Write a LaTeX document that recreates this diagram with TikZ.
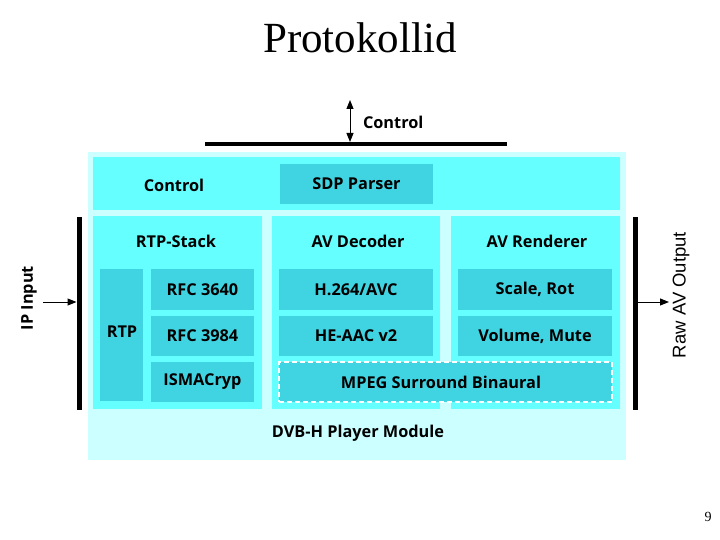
\documentclass[tikz,border=0pt]{standalone}
\usepackage{fontspec}
\setmainfont{Open Sans}
\newfontfamily\titlefont{Liberation Serif}
\newfontfamily\arialfont{Liberation Sans}
\usetikzlibrary{arrows.meta}
\definecolor{lightc}{RGB}{204,255,255}
\definecolor{midc}{RGB}{102,255,255}
\definecolor{darkc}{RGB}{64,212,226}
\tikzset{
  base/.style={inner sep=0pt, outer sep=0pt, font=\fontsize{16.3}{18}\selectfont\bfseries},
  outerbox/.style={base, fill=lightc, draw=none},
  midbox/.style={base, fill=midc, draw=none},
  darkbox/.style={base, fill=darkc, draw=none},
  dashbox/.style={base, fill=darkc, draw=white, dashed, line width=1.2pt, dash pattern=on 5pt off 3pt},
  txt/.style={base},
  bar/.style={fill=black, draw=none, inner sep=0pt, outer sep=0pt},
  arr/.style={line width=1pt, -{Triangle[length=9pt,width=7pt]}},
  darr/.style={line width=1pt, {Triangle[length=9pt,width=7pt]}-{Triangle[length=9pt,width=7pt]}},
}
\begin{document}
\begin{tikzpicture}[x=1pt,y=-1pt]
\useasboundingbox[fill=white] (0,0) rectangle (720,540);
% title and page number
\node[inner sep=0pt, font=\titlefont\fontsize{43}{48}\selectfont] (title) at (360,38) {Protokollid};
\node[inner sep=0pt, font=\titlefont\fontsize{14}{16}\selectfont] (pagenum) at (708,517) {9};
% outer module
\node[outerbox, minimum width=538pt, minimum height=308pt] (dvbh) at (357,306) {};
\node[txt] (dvbhlabel) at (358,433) {DVB-H Player Module};
% control row
\node[midbox, minimum width=527pt, minimum height=53pt] (ctrlrow) at (356.5,183.5) {};
\node[txt] (ctrllabel) at (174,185) {Control};
\node[darkbox, minimum width=153pt, minimum height=40pt] (sdp) at (356.5,184) {SDP Parser};
% columns
\node[midbox, minimum width=169pt, minimum height=193pt] (rtpstack) at (177.5,312.5) {};
\node[midbox, minimum width=168pt, minimum height=193pt] (avdec) at (356,312.5) {};
\node[midbox, minimum width=169pt, minimum height=193pt] (avren) at (535.5,312.5) {};
\node[txt] (rtpstacklabel) at (176,241) {RTP-Stack};
\node[txt] (avdeclabel) at (358,241) {AV Decoder};
\node[txt] (avrenlabel) at (537,241) {AV Renderer};
% inner boxes
\node[darkbox, minimum width=43pt, minimum height=132pt] (rtp) at (121.5,335) {};
\node[txt] (rtplabel) at (122,332) {RTP};
\node[darkbox, minimum width=103pt, minimum height=41pt] (rfca) at (202.5,289.5) {RFC 3640};
\node[darkbox, minimum width=103pt, minimum height=40pt] (rfcb) at (202.5,336) {RFC 3984};
\node[darkbox, minimum width=103pt, minimum height=40pt] (isma) at (202.5,382) {ISMACryp};
\node[darkbox, minimum width=154pt, minimum height=41pt] (h264) at (356,289.5) {H.264/AVC};
\node[darkbox, minimum width=154pt, minimum height=40pt] (heaac) at (356,336) {HE-AAC v2};
\node[darkbox, minimum width=154pt, minimum height=41pt] (scale) at (535,289.5) {Scale, Rot};
\node[darkbox, minimum width=154pt, minimum height=40pt] (volume) at (535,336) {Volume, Mute};
\node[dashbox, minimum width=333pt, minimum height=40pt] (mpeg) at (445.5,382) {};
\node[txt] (mpeglabel) at (441,382) {MPEG Surround Binaural};
% bars
\node[bar, minimum width=302pt, minimum height=4pt] (ctrlbar) at (356,144) {};
\node[bar, minimum width=5pt, minimum height=193pt] (leftbar) at (79,313.5) {};
\node[bar, minimum width=5pt, minimum height=193pt] (rightbar) at (635,313.5) {};
% arrows
\coordinate (ctrltop) at (350,100);
\draw[darr] (ctrltop) -- (ctrltop |- ctrlbar.north);
\node[txt, anchor=west] (ctrltext) at (363,122) {Control};
\coordinate (ipin) at (43,302);
\draw[arr] (ipin) -- (ipin -| leftbar.west);
\node[txt, rotate=90] (iplabel) at (29,298) {IP Input};
\coordinate (avout) at (669,302);
\draw[arr] (avout -| rightbar.east) -- (avout);
\node[inner sep=0pt, rotate=90, font=\arialfont\fontsize{18.5}{20}\selectfont] (avoutlabel) at (681,295) {Raw AV Output};
\end{tikzpicture}
\end{document}
